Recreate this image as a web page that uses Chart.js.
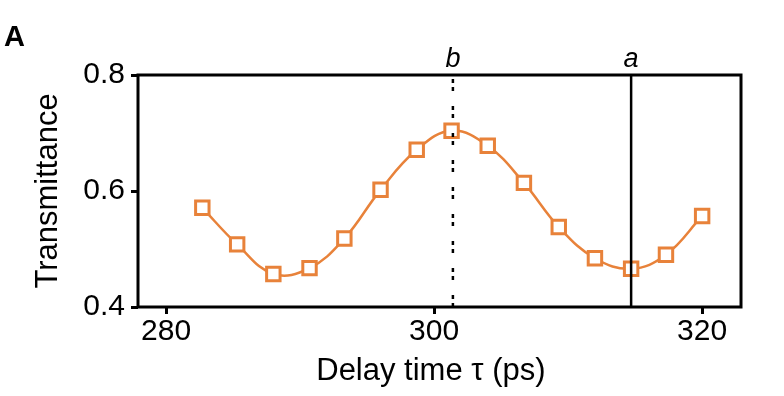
<!DOCTYPE html>
<html lang="en">
<head>
  <meta charset="UTF-8" />
  <title>Transmittance vs delay time</title>
  <script src="https://cdn.jsdelivr.net/npm/chart.js"></script>
  <style>
    body {
      margin: 0;
      background: #fff;
    }
    canvas {
      display: block;
    }
  </style>
</head>
<body>
  <canvas id="chart" width="784" height="396"></canvas>

  <script>
    // data
    const delayTimes = [282.7, 285.3, 288.0, 290.7, 293.3, 296.0, 298.7, 301.3, 304.0, 306.7, 309.3, 312.0, 314.7, 317.3, 320.0];
    const transmittance = [0.571, 0.508, 0.457, 0.467, 0.518, 0.602, 0.671, 0.704, 0.678, 0.614, 0.538, 0.484, 0.466, 0.490, 0.557];
    const xTicks = [280, 300, 320];
    const yTicks = [0.4, 0.6, 0.8];
    const markerNames = ['b', 'a'];
    const markerTimes = [301.4, 314.7];

    const orange = '#e8823a';
    const points = delayTimes.map((t, i) => ({ x: t, y: transmittance[i] }));

    const vline = (t) => [{ x: t, y: yTicks[0] }, { x: t, y: yTicks[yTicks.length - 1] }];

    // frame round the plot + panel letter + a/b labels
    const decorations = {
      id: 'decorations',
      afterDatasetsDraw(chart) {
        const { ctx, chartArea: a, scales } = chart;
        ctx.save();
        ctx.strokeStyle = '#000';
        ctx.lineWidth = 3;
        ctx.strokeRect(a.left, a.top, a.right - a.left, a.bottom - a.top);

        ctx.fillStyle = '#000';
        ctx.textAlign = 'center';
        ctx.textBaseline = 'alphabetic';
        ctx.font = 'italic 27px "Liberation Sans", Arial, sans-serif';
        markerNames.forEach((name, i) => {
          ctx.fillText(name, scales.x.getPixelForValue(markerTimes[i]), a.top - 8);
        });

        ctx.textAlign = 'left';
        ctx.font = 'bold 29px "Liberation Sans", Arial, sans-serif';
        ctx.fillText('A', 4, 46);
        ctx.restore();
      }
    };

    const font = { family: '"Liberation Sans", Arial, sans-serif', size: 30 };

    new Chart(document.getElementById('chart'), {
      type: 'scatter',
      data: {
        datasets: [
          {
            label: 'b',
            data: vline(markerTimes[0]),
            showLine: true,
            borderColor: '#000',
            borderWidth: 2.5,
            borderDash: [4, 4, 4, 15],
            pointRadius: 0,
            order: 0
          },
          {
            label: 'a',
            data: vline(markerTimes[1]),
            showLine: true,
            borderColor: '#000',
            borderWidth: 2.5,
            pointRadius: 0,
            order: 0
          },
          {
            label: 'data',
            data: points,
            showLine: false,
            pointStyle: 'rect',
            pointRadius: 9.5,
            pointBorderWidth: 3,
            pointBorderColor: orange,
            pointBackgroundColor: '#fff',
            order: 1
          },
          {
            label: 'fit',
            data: points,
            showLine: true,
            borderColor: orange,
            borderWidth: 2.5,
            tension: 0.4,
            pointRadius: 0,
            order: 2
          }
        ]
      },
      options: {
        responsive: false,
        devicePixelRatio: 1,
        animation: false,
        layout: { padding: { top: 75, right: 43, left: 30, bottom: 0 } },
        plugins: {
          legend: { display: false },
          tooltip: { enabled: false }
        },
        scales: {
          x: {
            type: 'linear',
            min: 277.9,
            max: 322.9,
            afterFit: (s) => { s.height = 89; },
            afterBuildTicks: (s) => { s.ticks = xTicks.map(v => ({ value: v })); },
            border: { display: false },
            grid: {
              drawOnChartArea: false,
              drawTicks: true,
              tickLength: 7,
              lineWidth: 3,
              color: '#000'
            },
            ticks: {
              color: '#000',
              font: font,
              padding: 0,
              maxRotation: 0,
              callback: (v) => String(v)
            },
            title: {
              display: true,
              text: 'Delay time τ (ps)  ',
              color: '#000',
              font: { family: font.family, size: 31 },
              padding: { top: 0, bottom: 6 }
            }
          },
          y: {
            type: 'linear',
            min: 0.4,
            max: 0.8,
            afterFit: (s) => { s.width = 108; },
            afterBuildTicks: (s) => { s.ticks = yTicks.map(v => ({ value: v })); },
            border: { display: false },
            grid: {
              drawOnChartArea: false,
              drawTicks: true,
              tickLength: 7,
              lineWidth: 3,
              color: '#000'
            },
            ticks: {
              color: '#000',
              font: font,
              padding: 6,
              callback: (v) => v.toFixed(1)
            },
            title: {
              display: true,
              text: 'Transmittance',
              color: '#000',
              font: { family: font.family, size: 31 },
              padding: { top: 0, bottom: 0 }
            }
          }
        }
      },
      plugins: [decorations]
    });
  </script>
</body>
</html>
